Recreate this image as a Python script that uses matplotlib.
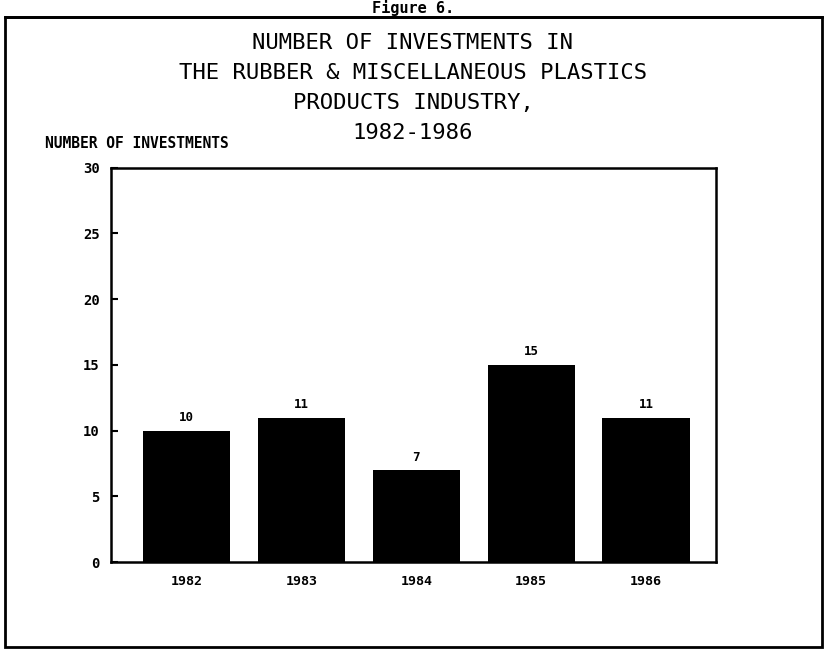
import matplotlib
matplotlib.use("Agg")
import matplotlib.pyplot as plt
from matplotlib.patches import Rectangle

years = ["1982", "1983", "1984", "1985", "1986"]
investments = [10, 11, 7, 15, 11]
yticks = [0, 5, 10, 15, 20, 25, 30]

title_lines = [
    "NUMBER OF INVESTMENTS IN",
    "THE RUBBER & MISCELLANEOUS PLASTICS",
    "PRODUCTS INDUSTRY,",
    "1982-1986",
]

plt.rcParams["font.family"] = ["DejaVu Sans Mono"]

fig = plt.figure(figsize=(8.26, 6.5), dpi=100)
ax = fig.add_axes([0.134, 0.135, 0.733, 0.607])

x = list(range(len(years)))
ax.bar(x, investments, width=0.76, color="black")
for xi, v in zip(x, investments):
    ax.text(xi, v + 0.5, str(v), ha="center", va="bottom", fontsize=9, fontweight="bold")

ax.set_xlim(-0.66, 4.61)
ax.set_ylim(0, 30)
ax.set_yticks(yticks)
ax.set_xticks(x)
ax.set_xticklabels(years)
ax.tick_params(axis="y", direction="in", length=5, width=1.5, labelsize=10, pad=8)
ax.tick_params(axis="x", length=0, labelsize=9.5, pad=9)
for lab in ax.get_yticklabels() + ax.get_xticklabels():
    lab.set_fontweight("bold")
for s in ax.spines.values():
    s.set_linewidth(1.8)

# title lines
ys = [0.934, 0.888, 0.842, 0.796]
for t, yy in zip(title_lines, ys):
    fig.text(0.5, yy, t, ha="center", va="center", fontsize=16)

fig.text(0.055, 0.78, "NUMBER OF INVESTMENTS", ha="left", va="center",
         fontsize=10.5, fontweight="bold")

# caption above the frame
fig.text(0.5, 0.987, "Figure 6.", ha="center", va="center", fontsize=11, fontweight="bold")
fig.add_artist(plt.Line2D([0.006, 0.995], [0.974, 0.974], color="black", lw=2))

# outer frame
fig.add_artist(Rectangle((0.006, 0.005), 0.989, 0.969, transform=fig.transFigure,
                         fill=False, edgecolor="black", lw=2))

fig.savefig("out.png", dpi=100)
